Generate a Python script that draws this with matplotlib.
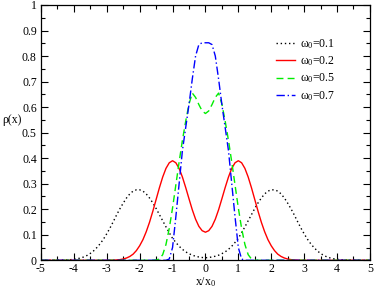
import numpy as np
import matplotlib
matplotlib.use("Agg")
import matplotlib.pyplot as plt
from matplotlib.ticker import MultipleLocator, FuncFormatter

# x grid, half side (0 .. 5, step 0.1); curves are mirrored to the negative side
x_half = [0.0, 0.1, 0.2, 0.3, 0.4, 0.5, 0.6, 0.7, 0.8, 0.9,
          1.0, 1.1, 1.2, 1.3, 1.4, 1.5, 1.6, 1.7, 1.8, 1.9,
          2.0, 2.1, 2.2, 2.3, 2.4, 2.5, 2.6, 2.7, 2.8, 2.9,
          3.0, 3.1, 3.2, 3.3, 3.4, 3.5, 3.6, 3.7, 3.8, 3.9,
          4.0, 4.1, 4.2, 4.3, 4.4, 4.5, 4.6, 4.7, 4.8, 4.9, 5.0]

# omega_0 = 0.1 (dotted black)
rho_01 = [0.010, 0.011, 0.013, 0.016, 0.020, 0.026, 0.033, 0.043, 0.055, 0.070,
          0.086, 0.108, 0.131, 0.155, 0.179, 0.203, 0.225, 0.244, 0.260, 0.271,
          0.276, 0.276, 0.271, 0.260, 0.244, 0.224, 0.202, 0.178, 0.152, 0.127,
          0.104, 0.083, 0.065, 0.050, 0.037, 0.027, 0.019, 0.013, 0.009, 0.006,
          0.004, 0.0025, 0.0015, 0.001, 0.0006, 0.0003, 0.0002, 0.0001, 0.0, 0.0, 0.0]

# omega_0 = 0.2 (solid red)
rho_02 = [0.110, 0.116, 0.133, 0.161, 0.198, 0.241, 0.285, 0.326, 0.360, 0.382,
          0.390, 0.382, 0.360, 0.326, 0.284, 0.238, 0.192, 0.149, 0.112, 0.081,
          0.057, 0.038, 0.024, 0.015, 0.009, 0.005, 0.0027, 0.0014, 0.0007, 0.0003,
          0.0001, 0.0, 0.0, 0.0, 0.0, 0.0, 0.0, 0.0, 0.0, 0.0,
          0.0, 0.0, 0.0, 0.0, 0.0, 0.0, 0.0, 0.0, 0.0, 0.0, 0.0]

# omega_0 = 0.5 (dashed green)
rho_05 = [0.575, 0.585, 0.610, 0.638, 0.655, 0.612, 0.545, 0.470, 0.385, 0.295,
          0.205, 0.125, 0.062, 0.022, 0.005, 0.001, 0.0, 0.0, 0.0, 0.0,
          0.0, 0.0, 0.0, 0.0, 0.0, 0.0, 0.0, 0.0, 0.0, 0.0,
          0.0, 0.0, 0.0, 0.0, 0.0, 0.0, 0.0, 0.0, 0.0, 0.0,
          0.0, 0.0, 0.0, 0.0, 0.0, 0.0, 0.0, 0.0, 0.0, 0.0, 0.0]

# omega_0 = 0.7 (dash-dot blue)
rho_07 = [0.852, 0.852, 0.845, 0.800, 0.710, 0.610, 0.520, 0.430, 0.300, 0.170,
          0.050, 0.005, 0.0, 0.0, 0.0, 0.0, 0.0, 0.0, 0.0, 0.0,
          0.0, 0.0, 0.0, 0.0, 0.0, 0.0, 0.0, 0.0, 0.0, 0.0,
          0.0, 0.0, 0.0, 0.0, 0.0, 0.0, 0.0, 0.0, 0.0, 0.0,
          0.0, 0.0, 0.0, 0.0, 0.0, 0.0, 0.0, 0.0, 0.0, 0.0, 0.0]

labels = [r"ω$_0$=0.1", r"ω$_0$=0.2", r"ω$_0$=0.5", r"ω$_0$=0.7"]


def mirror(v, sign=1):
    v = np.asarray(v, dtype=float)
    return np.concatenate([sign * v[:0:-1], v])


plt.rcParams['font.family'] = 'Liberation Serif'
plt.rcParams['mathtext.fontset'] = 'custom'
plt.rcParams['mathtext.rm'] = 'Liberation Serif'
plt.rcParams['mathtext.it'] = 'Liberation Serif'
plt.rcParams['axes.unicode_minus'] = False
FS = 8.5

fig = plt.figure(figsize=(3.74, 2.90), dpi=100)
ax = fig.add_axes([0.1096, 0.1024, 0.8794, 0.8804])

x = mirror(x_half, -1)
ax.plot(x, mirror(rho_01), color='black', lw=1.0, ls=(0, (1, 2)), label=labels[0])
ax.plot(x, mirror(rho_02), color='#ff0000', lw=1.0, ls='-', label=labels[1])
ax.plot(x, mirror(rho_05), color='#00ee00', lw=1.0, ls=(0, (5, 3)), label=labels[2])
ax.plot(x, mirror(rho_07), color='#0000ff', lw=1.0, ls=(0, (6, 2, 1, 2)), label=labels[3])

ax.set_xlim(-5, 5)
ax.set_ylim(0, 1)
ax.xaxis.set_major_locator(MultipleLocator(1))
ax.xaxis.set_minor_locator(MultipleLocator(0.5))
ax.yaxis.set_major_locator(MultipleLocator(0.1))
ax.yaxis.set_minor_locator(MultipleLocator(0.05))
ax.yaxis.set_major_formatter(FuncFormatter(lambda v, p: "%g" % round(v, 2)))
ax.tick_params(which='both', direction='in', top=True, right=True, width=0.8,
               labelsize=FS)
ax.tick_params(axis='x', pad=2)
ax.tick_params(axis='y', pad=3)
ax.tick_params(which='major', length=5)
ax.tick_params(which='minor', length=3)
for s in ax.spines.values():
    s.set_linewidth(0.9)

ax.set_xlabel(r"x/x$_0$", fontsize=FS, labelpad=0)
ax.set_ylabel(r"ρ(x)", fontsize=FS, rotation=0, ha='left', va='center')
ax.yaxis.set_label_coords(-0.118, 0.55)

ax.legend(loc='upper left', bbox_to_anchor=(276 / 374, 1 - 37 / 290),
          bbox_transform=fig.transFigure, frameon=False, borderpad=0,
          borderaxespad=0, fontsize=FS, handlelength=1.6, handletextpad=0.45,
          labelspacing=0.3)

fig.savefig("out.png", dpi=100)
